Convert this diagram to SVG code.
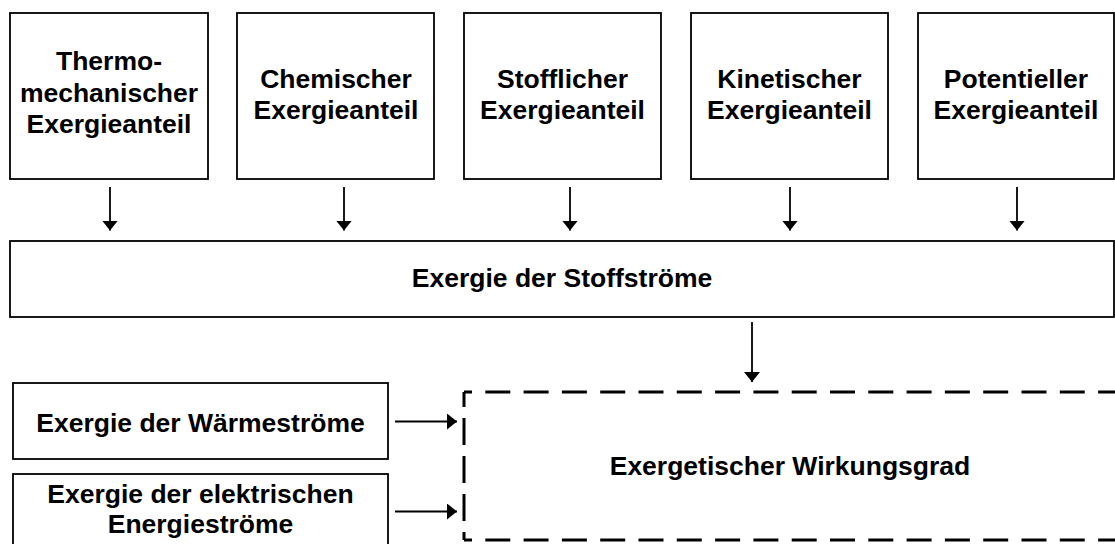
<svg xmlns="http://www.w3.org/2000/svg" width="1115" height="544" viewBox="0 0 1115 544">
  <style>
    .box { fill: #ffffff; stroke: #000000; stroke-width: 1.8; }
    .lbl { font-family: "Liberation Sans", Arial, sans-serif; font-weight: bold; font-size: 26.5px; fill: #000000; text-anchor: middle; }
    .conn { stroke: #000000; stroke-width: 1.8; fill: none; marker-end: url(#head); }
    .dash-h { stroke: #000000; stroke-width: 3; fill: none; stroke-dasharray: 25 13.3; stroke-dashoffset: 17; }
    .dash-v { stroke: #000000; stroke-width: 3; fill: none; stroke-dasharray: 27 11; stroke-dashoffset: 12; }
  </style>
  <defs>
    <marker id="head" markerUnits="userSpaceOnUse" markerWidth="12" markerHeight="18" refX="10" refY="8" orient="auto">
      <path d="M0,0 L10,8 L0,16 Z" fill="#000000"/>
    </marker>
  </defs>
  <rect width="1115" height="544" fill="#ffffff"/>

  <!-- top row: exergy components -->
  <g id="thermomechanisch">
    <rect class="box" x="10" y="13" width="198" height="166"/>
    <text class="lbl" x="109" y="70">Thermo-</text>
    <text class="lbl" x="109" y="101.5">mechanischer</text>
    <text class="lbl" x="109" y="133">Exergieanteil</text>
  </g>
  <g id="chemisch">
    <rect class="box" x="237" y="13" width="197" height="166"/>
    <text class="lbl" x="336" y="88">Chemischer</text>
    <text class="lbl" x="336" y="119.3">Exergieanteil</text>
  </g>
  <g id="stofflich">
    <rect class="box" x="464" y="13" width="197" height="166"/>
    <text class="lbl" x="562.5" y="88">Stofflicher</text>
    <text class="lbl" x="562.5" y="119.3">Exergieanteil</text>
  </g>
  <g id="kinetisch">
    <rect class="box" x="691" y="13" width="197" height="166"/>
    <text class="lbl" x="789.5" y="88">Kinetischer</text>
    <text class="lbl" x="789.5" y="119.3">Exergieanteil</text>
  </g>
  <g id="potentiell">
    <rect class="box" x="918" y="13" width="196" height="166"/>
    <text class="lbl" x="1016" y="88">Potentieller</text>
    <text class="lbl" x="1016" y="119.3">Exergieanteil</text>
  </g>

  <!-- material flow exergy -->
  <g id="stoffstroeme">
    <rect class="box" x="10" y="241" width="1104" height="76"/>
    <text class="lbl" x="562" y="287">Exergie der Stoffströme</text>
  </g>

  <!-- heat and electric flows -->
  <g id="waermestroeme">
    <rect class="box" x="13" y="383" width="375" height="76"/>
    <text class="lbl" x="200.5" y="431.5">Exergie der Wärmeströme</text>
  </g>
  <g id="elektrisch">
    <rect class="box" x="13" y="474" width="375" height="80"/>
    <text class="lbl" x="200.5" y="503.3">Exergie der elektrischen</text>
    <text class="lbl" x="200.5" y="533.3">Energieströme</text>
  </g>

  <!-- system efficiency (dashed boundary) -->
  <g id="wirkungsgrad">
    <path class="dash-h" d="M464,392 H1125"/>
    <path class="dash-v" d="M464,392 V540"/>
    <path class="dash-h" d="M464,540 H1125"/>
    <text class="lbl" x="790" y="475">Exergetischer Wirkungsgrad</text>
  </g>

  <g id="connectors">
    <path class="conn" d="M110,187 V230.5"/>
    <path class="conn" d="M344,187 V230.5"/>
    <path class="conn" d="M570,187 V230.5"/>
    <path class="conn" d="M790,187 V230.5"/>
    <path class="conn" d="M1017,187 V230.5"/>
    <path class="conn" d="M752,322 V382"/>
    <path class="conn" d="M395,421.5 H457"/>
    <path class="conn" d="M395,511.5 H457"/>
  </g>
</svg>
